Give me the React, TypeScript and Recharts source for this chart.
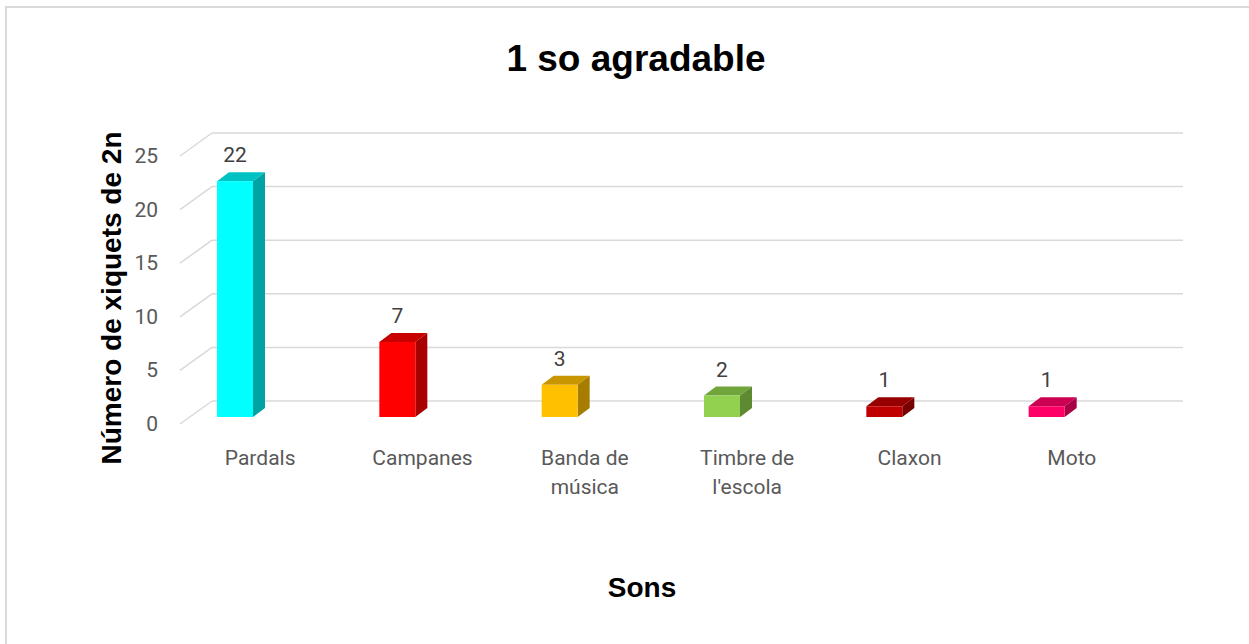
import React from 'react';
import { BarChart, Bar, XAxis, YAxis, CartesianGrid, LabelList } from 'recharts';

const categories = ['Pardals', 'Campanes', 'Banda de música', "Timbre de l'escola", 'Claxon', 'Moto'];
const counts = [22, 7, 3, 2, 1, 1];
const yTicks = [0, 5, 10, 15, 20, 25];

const frontColors = ['#00FFFF', '#FF0000', '#FFC000', '#92D050', '#C00000', '#FF0066'];
const sideColors = ['#00A3A3', '#A80000', '#A67D00', '#5E8A32', '#780000', '#A80044'];
const topColors = ['#00C2C2', '#C80000', '#C89600', '#70A53C', '#960000', '#CC0052'];

const data = categories.map((name, i) => ({ name, count: counts[i] }));

const DEPTH_X = 12;
const DEPTH_Y = 9;
const BACK_LEFT = 212;
const BACK_RIGHT = 1183;
const FLOOR_LEFT = 180;

const Bar3D = (props: any) => {
  const { x, y, width, height, payload } = props;
  const i = categories.indexOf(payload.name);
  const r = x + width;
  const b = y + height;
  return (
    <g>
      <polygon
        points={`${x},${y} ${x + DEPTH_X},${y - DEPTH_Y} ${r + DEPTH_X},${y - DEPTH_Y} ${r},${y}`}
        fill={topColors[i]}
      />
      <polygon
        points={`${r},${y} ${r + DEPTH_X},${y - DEPTH_Y} ${r + DEPTH_X},${b - DEPTH_Y} ${r},${b}`}
        fill={sideColors[i]}
      />
      <rect x={x} y={y} width={width} height={height} fill={frontColors[i]} />
    </g>
  );
};

// back-wall gridline plus the short diagonal on the left wall
const gridLine = (props: any) => {
  const { y1, index } = props;
  const back = y1 - 16;
  return (
    <g key={`g-${index}`}>
      <line x1={FLOOR_LEFT} y1={y1 + 7} x2={BACK_LEFT} y2={back} stroke="#d9d9d9" strokeWidth={1.5} />
      <line x1={BACK_LEFT} y1={back} x2={BACK_RIGHT} y2={back} stroke="#d9d9d9" strokeWidth={1.5} />
    </g>
  );
};

const YTick = (props: any) => {
  const { y, payload } = props;
  return (
    <text x={158} y={y + 14} textAnchor="end" fill="#595959" fontSize={21} fontFamily="Roboto, sans-serif">
      {payload.value}
    </text>
  );
};

const XTick = (props: any) => {
  const { x, y, payload } = props;
  const words = String(payload.value).split(' ');
  const lines = words.length > 2 ? [words.slice(0, -1).join(' '), words[words.length - 1]] : [payload.value];
  return (
    <text x={x + 25} y={y + 40} textAnchor="middle" fill="#595959" fontSize={21} fontFamily="Roboto, sans-serif">
      {lines.map((l: string, k: number) => (
        <tspan key={k} x={x + 25} dy={k === 0 ? 0 : 29}>
          {l}
        </tspan>
      ))}
    </text>
  );
};

const ValueLabel = (props: any) => {
  const { x, y, width, value } = props;
  return (
    <text x={x + width / 2} y={y - 19} textAnchor="middle" fill="#404040" fontSize={21} fontFamily="Roboto, sans-serif">
      {value}
    </text>
  );
};

export default function App() {
  return (
    <div style={{ position: 'absolute', left: 0, top: 0, width: 1249, height: 644, background: '#fff', overflow: 'hidden' }}>
      <div
        style={{
          position: 'absolute',
          left: 5,
          top: 6,
          width: 1260,
          height: 660,
          borderTop: '2px solid #d9d9d9',
          borderLeft: '2px solid #d9d9d9',
        }}
      />
      <div style={{ position: 'absolute', left: 0, top: 0 }}>
        <BarChart width={1249} height={644} data={data} margin={{ top: 149, right: 121, bottom: 0, left: 0 }} barSize={36}>
          <CartesianGrid vertical={false} horizontal={gridLine} />
          <XAxis dataKey="name" height={227} axisLine={false} tickLine={false} tick={<XTick />} interval={0} />
          <YAxis width={154} domain={[0, 25]} ticks={yTicks} axisLine={false} tickLine={false} tick={<YTick />} />
          <Bar dataKey="count" shape={<Bar3D />} isAnimationActive={false}>
            <LabelList dataKey="count" content={<ValueLabel />} />
          </Bar>
        </BarChart>
      </div>
      <svg width={1249} height={644} style={{ position: 'absolute', left: 0, top: 0, pointerEvents: 'none' }}>
        <text x={636} y={71} textAnchor="middle" fontSize={37} fontWeight="bold" fontFamily="'Liberation Sans', Arial, sans-serif" fill="#000">
          1 so agradable
        </text>
        <text x={642} y={597} textAnchor="middle" fontSize={28} fontWeight="bold" fontFamily="'Liberation Sans', Arial, sans-serif" fill="#000">
          Sons
        </text>
        <text
          transform="translate(121, 298) rotate(-90)"
          textAnchor="middle"
          fontSize={28}
          fontWeight="bold"
          fontFamily="'Liberation Sans', Arial, sans-serif"
          fill="#000"
        >
          Número de xiquets de 2n
        </text>
      </svg>
    </div>
  );
}
